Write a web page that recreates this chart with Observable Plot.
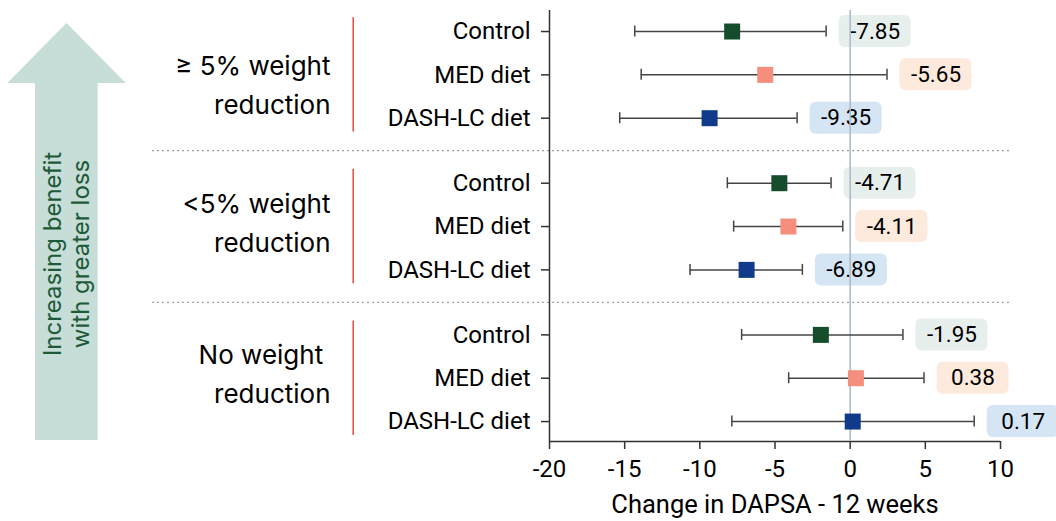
<!DOCTYPE html>
<html><head><meta charset="utf-8">
<script src="https://cdn.jsdelivr.net/npm/d3@7"></script>
<script src="https://cdn.jsdelivr.net/npm/@observablehq/plot@0.6"></script>
<style>html,body{margin:0;padding:0;background:#fff} svg{display:block}</style>
</head><body><div id="chart"></div>
<script>
// ---- data ----
const groups = ["≥ 5% weight\nreduction", "<5% weight\nreduction", "No weight \nreduction"];
const diets = ["Control", "MED diet", "DASH-LC diet"];
const estimates = [[-7.85, -5.65, -9.35], [-4.71, -4.11, -6.89], [-1.95, 0.38, 0.17]];
const lower = [[-14.33, -13.9, -15.33], [-8.17, -7.75, -10.65], [-7.22, -4.09, -7.87]];
const upper = [[-1.6, 2.45, -3.53], [-1.27, -0.49, -3.18], [3.51, 4.91, 8.25]];
const xTicks = [-20, -15, -10, -5, 0, 5, 10];
const xLabel = "Change in DAPSA - 12 weeks";
const arrowLines = ["Increasing benefit", "with greater loss"];

// ---- styles ----
const dietColors = ["#154d2c", "#f58e7c", "#113a8b"];
const boxColors = ["#e7efed", "#fdeadc", "#d6e5f4"];
const groupGap = 3.5;           // rows per group incl. spacing
const groupLabelDy = [7, -7, -7];

const rows = [];
groups.forEach((g, gi) => diets.forEach((name, di) => rows.push({
  g: gi, d: di, label: name, pos: gi * groupGap + di,
  est: estimates[gi][di], lo: lower[gi][di], hi: upper[gi][di]
})));
const labelByPos = new Map(rows.map(r => [r.pos, r.label]));
const groupIdx = groups.map((_, i) => i);
const seps = groupIdx.slice(1).map(i => i * groupGap - (groupGap - 2) / 2);
const yDomain = [-0.485, 9.46];

const plot = Plot.plot({
  width: 1056, height: 521,
  marginLeft: 549, marginRight: 56, marginTop: 10, marginBottom: 80,
  style: {fontFamily: "Roboto, sans-serif", fontSize: "24px", color: "#000", background: "#fff"},
  x: {domain: [-20, 10]},
  y: {domain: yDomain, reverse: true},
  color: {type: "identity"},
  marks: [
    Plot.ruleY(seps, {stroke: "#9aa3a8", strokeWidth: 1.2, strokeDasharray: "2,3", insetLeft: -397, insetRight: -10}),
    Plot.ruleX(groupIdx, {x: () => -20, y1: i => i * groupGap + 1 - 1.32, y2: i => i * groupGap + 1 + 1.32,
      dx: -196.3, stroke: "#e8473d", strokeWidth: 1.5}),
    ...groupIdx.map(i => Plot.text([groups[i]], {x: () => -20, y: () => i * groupGap + 1, text: d => d,
      dx: -219, dy: groupLabelDy[i], textAnchor: "end", lineHeight: 1.5,
      fontFamily: "Inter, sans-serif", fontSize: 26, fill: "#000"})),
    Plot.axisY({ticks: rows.map(r => r.pos), tickFormat: p => labelByPos.get(p), tickSize: 8, tickPadding: 11,
      stroke: "#333", strokeWidth: 1.5, fontSize: 24, fill: "#000", label: null}),
    Plot.axisX({ticks: xTicks, tickFormat: d => String(d), tickSize: 8, tickPadding: 10,
      stroke: "#333", strokeWidth: 1.5, fontSize: 24, fill: "#000", label: null}),
    Plot.text([xLabel], {text: d => d, frameAnchor: "bottom", dy: 71, fontSize: 25.5, fill: "#000"}),
    Plot.ruleX([-20], {stroke: "#333", strokeWidth: 1.5}),
    Plot.ruleY([yDomain[1]], {stroke: "#333", strokeWidth: 1.5}),
    Plot.rect(rows, {x1: "hi", x2: "hi", y1: "pos", y2: "pos", insetLeft: 13, insetRight: -85,
      insetTop: -16, insetBottom: -16, rx: 6, fill: d => boxColors[d.d]}),
    Plot.text(rows, {x: "hi", y: "pos", dx: 49, text: d => d.est.toFixed(2), fontSize: 22.5, fill: "#000"}),
    Plot.ruleX([0], {stroke: "#a9b8c8", strokeWidth: 1.5}),
    Plot.ruleY(rows, {x1: "lo", x2: "hi", y: "pos", stroke: "#444", strokeWidth: 1.5}),
    Plot.ruleX(rows, {x: "lo", y1: "pos", y2: "pos", insetTop: -5.5, insetBottom: -5.5, stroke: "#444", strokeWidth: 1.5}),
    Plot.ruleX(rows, {x: "hi", y1: "pos", y2: "pos", insetTop: -5.5, insetBottom: -5.5, stroke: "#444", strokeWidth: 1.5}),
    Plot.dot(rows, {x: "est", y: "pos", symbol: "square", r: 9.03, fill: d => dietColors[d.d], stroke: null})
  ]
});

// decorative arrow on the left
const svg = d3.select(plot);
const ga = svg.insert("g", "g");
ga.append("polygon")
  .attr("points", "66.5,23 125.7,83 97.7,83 97.7,440 35,440 35,83 7.3,83")
  .attr("fill", "#c6ddd8");
[61, 89].forEach((bx, i) => {
  ga.append("text")
    .attr("transform", `translate(${bx},254) rotate(-90)`)
    .attr("text-anchor", "middle")
    .attr("font-family", "Inter, sans-serif")
    .attr("font-size", 24)
    .attr("fill", "#1d5a37")
    .text(arrowLines[i]);
});
document.getElementById("chart").appendChild(plot);
</script>
</body></html>
